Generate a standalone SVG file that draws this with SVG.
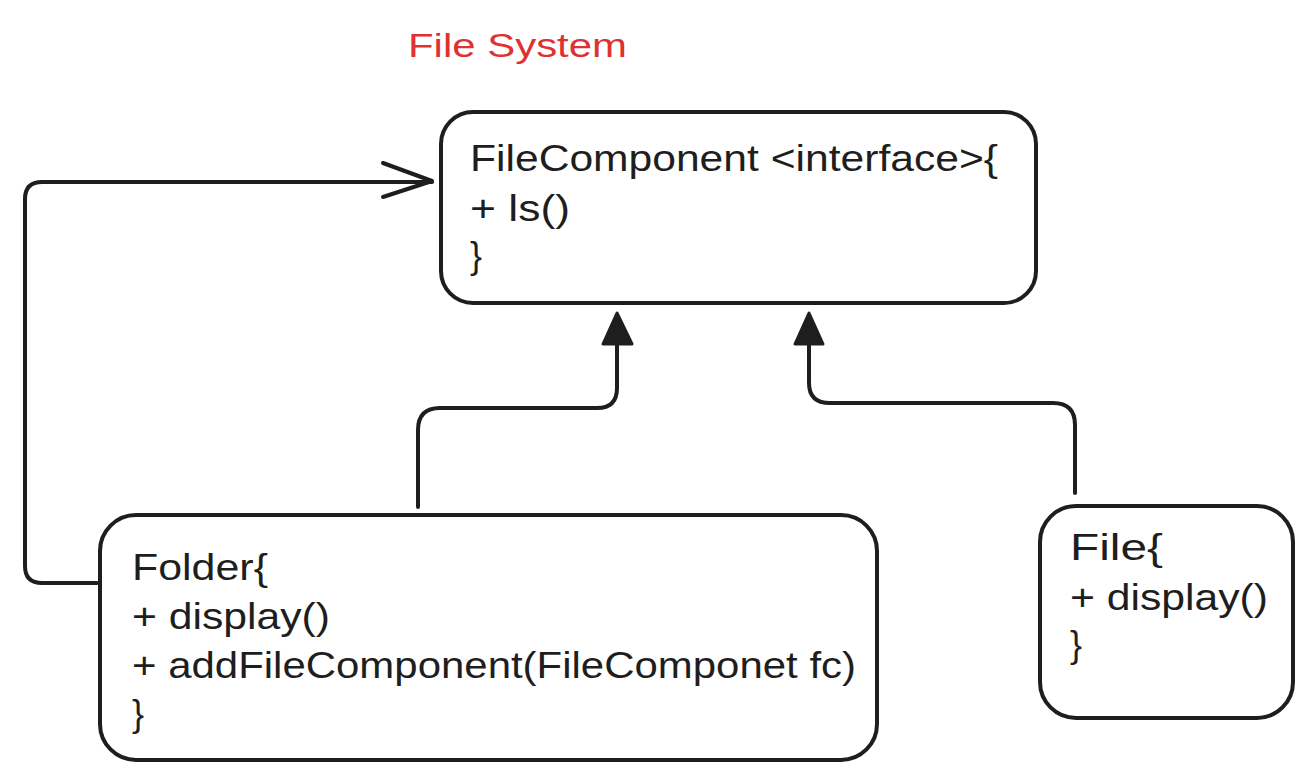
<svg xmlns="http://www.w3.org/2000/svg" width="1311" height="780" viewBox="0 0 1311 780">
<style>
.box{fill:#fff;stroke:#1e1e1e;stroke-width:4}
.conn{fill:none;stroke:#1e1e1e;stroke-width:4;stroke-linecap:round;stroke-linejoin:round}
.head{fill:#1e1e1e;stroke:#1e1e1e;stroke-width:3;stroke-linejoin:round}
.t{font-family:"Liberation Sans",Arial,sans-serif;font-size:36px;fill:#1e1e1e}
.title{font-family:"Liberation Sans",Arial,sans-serif;font-size:34px;fill:#e03131}
</style>
<rect width="1311" height="780" fill="#fff"/>
<text class="title" x="408" y="57" textLength="219" lengthAdjust="spacingAndGlyphs">File System</text>
<g id="connectors">
<path class="conn" d="M97,583 L42,583 Q25,583 25,566 L25,199 Q25,182 42,182 L432,182"/>
<path class="conn" d="M383,163 L432,181 L383,197"/>
<path class="conn" d="M418,507 L418,430 Q418,408 440,408 L597,408 Q617,408 617,388 L617,343"/>
<polygon class="head" points="617,313 603,344 632,344"/>
<path class="conn" d="M1075,493 L1075,425 Q1075,403 1053,403 L830,403 Q809,403 809,383 L809,343"/>
<polygon class="head" points="809,313 795,344 823,344"/>
</g>
<g id="fileComponent">
<rect class="box" x="441" y="112" width="595" height="191" rx="32"/>
<text class="t" x="470" y="171" textLength="528" lengthAdjust="spacingAndGlyphs">FileComponent &lt;interface&gt;{</text>
<text class="t" x="470" y="221" textLength="100" lengthAdjust="spacingAndGlyphs">+ ls()</text>
<text class="t" x="470" y="268">}</text>
</g>
<g id="folder">
<rect class="box" x="100" y="515" width="777" height="245" rx="36"/>
<text class="t" x="132" y="580" textLength="136" lengthAdjust="spacingAndGlyphs">Folder{</text>
<text class="t" x="132" y="629" textLength="198" lengthAdjust="spacingAndGlyphs">+ display()</text>
<text class="t" x="132" y="678" textLength="724" lengthAdjust="spacingAndGlyphs">+ addFileComponent(FileComponet fc)</text>
<text class="t" x="132" y="726">}</text>
</g>
<g id="file">
<rect class="box" x="1040" y="506" width="253" height="212" rx="36"/>
<text class="t" x="1070" y="560" textLength="93" lengthAdjust="spacingAndGlyphs">File{</text>
<text class="t" x="1070" y="610" textLength="198" lengthAdjust="spacingAndGlyphs">+ display()</text>
<text class="t" x="1070" y="657">}</text>
</g>
</svg>
